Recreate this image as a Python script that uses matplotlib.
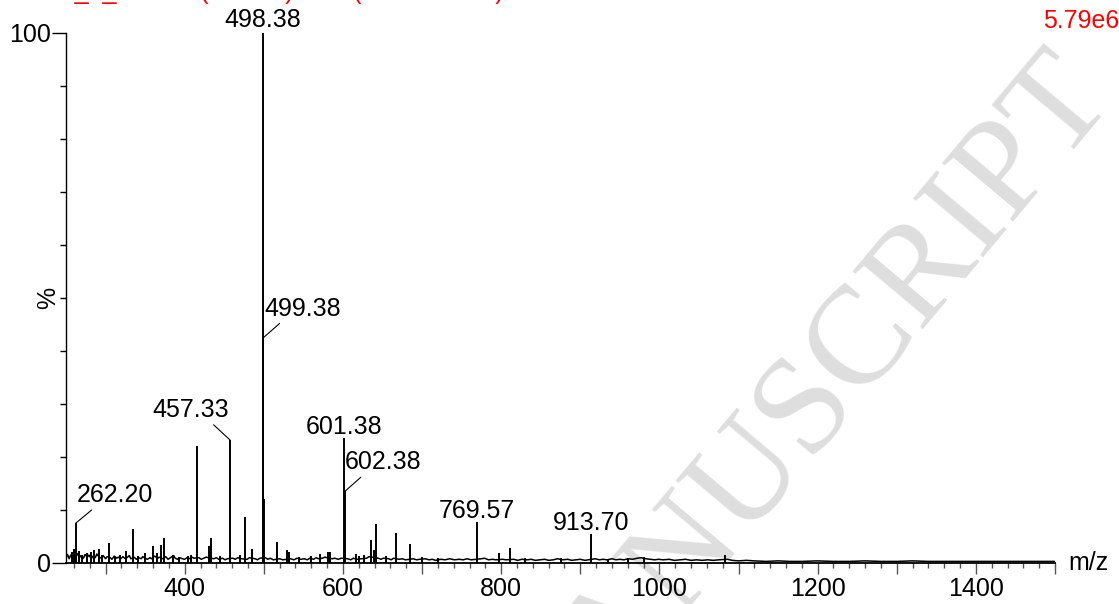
import matplotlib.pyplot as plt
from matplotlib.ticker import MultipleLocator, FuncFormatter

plt.rcParams['font.family'] = ['Liberation Sans', 'DejaVu Sans']

# peak centroids (m/z) and relative intensity (%)
peak_mz = [257.0, 259.5, 262.20, 266.0, 270.0, 276.0, 281.0, 286.0, 292.0, 296.0,
           304.6, 312.0, 318.0, 325.7, 334.1, 341.0, 350.0, 359.4, 365.0, 369.5,
           374.0, 385.0, 393.0, 404.0, 408.0, 415.3, 430.8, 433.8, 445.0, 457.33,
           470.0, 475.9, 485.5, 498.38, 499.38, 500.4, 516.7, 529.7, 531.5, 545.0,
           560.0, 571.0, 581.5, 583.5, 601.38, 602.38, 616.0, 620.0, 627.0, 635.7,
           638.7, 642.4, 655.0, 667.2, 685.3, 700.0, 720.0, 769.57, 797.6, 811.0,
           830.0, 875.0, 913.70, 935.0, 960.0, 980.0, 1082.8]
peak_pct = [2.0, 2.6, 7.5, 2.2, 1.6, 1.8, 2.0, 2.4, 2.6, 1.6,
            3.8, 1.4, 1.5, 2.3, 6.4, 1.4, 1.8, 3.2, 1.8, 3.4,
            4.8, 1.6, 1.2, 1.3, 1.5, 22.1, 3.2, 4.7, 1.3, 23.2,
            1.6, 8.6, 2.6, 100.0, 42.5, 12.0, 4.0, 2.5, 2.0, 1.2,
            1.3, 1.7, 2.0, 2.1, 23.5, 13.5, 1.7, 1.3, 1.5, 4.3,
            2.5, 7.4, 1.3, 5.7, 3.6, 1.2, 1.0, 7.7, 1.9, 2.8,
            0.9, 0.9, 5.5, 0.8, 0.9, 1.1, 1.5]

# baseline noise (m/z, %)
base_low = [(250, 1.0), (252, 1.6), (254, 0.8), (256, 1.5), (258, 1.1), (261, 0.9), (264, 1.8),
            (267, 1.0), (269, 1.4), (272, 0.9), (274, 1.6), (277, 1.1), (279, 1.5), (282, 0.8),
            (284, 1.3), (287, 1.0), (289, 1.7), (292, 1.1), (295, 0.9), (297, 1.4), (300, 0.8),
            (302, 1.2), (306, 1.0), (308, 0.7), (311, 1.3), (314, 0.9), (316, 1.1), (319, 0.8),
            (322, 1.2), (324, 0.9), (327, 1.0), (330, 1.4), (332, 0.8), (336, 1.1), (339, 0.7),
            (342, 1.0), (345, 0.8), (347, 1.2), (350, 0.9), (353, 0.7), (356, 1.0), (358, 0.8),
            (362, 1.3), (366, 0.9), (368, 1.1), (372, 0.8), (376, 1.2), (379, 0.7), (382, 1.0),
            (386, 1.4), (388, 0.9), (391, 0.7), (394, 1.0), (397, 0.8), (400, 0.7), (403, 1.0),
            (406, 0.8), (409, 1.1), (412, 0.9), (418, 1.0), (421, 0.7), (424, 0.9), (427, 1.1),
            (437, 0.8), (440, 1.0), (443, 0.7), (448, 0.9), (451, 0.6), (454, 0.8), (461, 0.9),
            (464, 0.7), (467, 1.0), (472, 0.8), (479, 0.7), (482, 1.0), (489, 0.8), (492, 0.6),
            (495, 0.9)]
base_mid = [(502, 1.0), (505, 0.7), (508, 0.9), (512, 0.6), (520, 0.8), (524, 0.6), (534, 0.8),
            (538, 0.6), (542, 0.9), (547, 0.7), (551, 0.8), (555, 0.6), (558, 0.9), (563, 0.7),
            (566, 1.0), (569, 0.8), (574, 0.9), (577, 1.1), (586, 0.8), (590, 0.9), (594, 0.7),
            (598, 0.9), (606, 0.8), (610, 0.6), (613, 0.9), (618, 0.7), (623, 0.8), (630, 0.9),
            (633, 1.2), (645, 0.9), (648, 0.7), (651, 0.9), (658, 0.8), (661, 0.6), (664, 0.9),
            (671, 0.7), (675, 0.8), (679, 0.6), (689, 0.8), (693, 0.6), (697, 0.7), (704, 0.8),
            (709, 0.6), (713, 0.7), (717, 0.5), (724, 0.7), (729, 0.6), (735, 0.8), (741, 0.6),
            (747, 0.7), (752, 0.6), (757, 0.8), (762, 0.6), (775, 0.8), (779, 0.9), (784, 0.6),
            (789, 0.7), (793, 0.6), (802, 0.7), (806, 0.6), (816, 0.7), (821, 0.5), (826, 0.7),
            (833, 0.6), (838, 0.7), (843, 0.5), (849, 0.6), (855, 0.7), (860, 0.5), (866, 0.6),
            (871, 0.8), (878, 0.6), (884, 0.7), (889, 0.5), (895, 0.6), (900, 0.7), (906, 0.5),
            (910, 0.6), (919, 0.8), (924, 0.6), (929, 0.7), (934, 0.6), (940, 0.8), (945, 0.6),
            (950, 0.7), (955, 0.6), (961, 0.8), (966, 0.7), (972, 0.9), (977, 1.0), (983, 0.8),
            (988, 0.7), (994, 0.6), (999, 0.7)]
base_high = [(1005, 0.6), (1012, 0.7), (1019, 0.5), (1026, 0.6), (1033, 0.7), (1040, 0.5),
             (1047, 0.6), (1054, 0.5), (1061, 0.6), (1068, 0.5), (1075, 0.6), (1086, 0.7),
             (1092, 0.5), (1100, 0.4), (1110, 0.5), (1120, 0.4), (1135, 0.3), (1150, 0.4),
             (1165, 0.3), (1180, 0.3), (1200, 0.4), (1220, 0.3), (1240, 0.3), (1260, 0.4),
             (1280, 0.3), (1300, 0.3), (1320, 0.4), (1340, 0.3), (1360, 0.3), (1380, 0.3),
             (1400, 0.3), (1420, 0.3), (1440, 0.3), (1460, 0.3), (1480, 0.3), (1500, 0.3)]

# labelled peaks
label_mz = [262.20, 457.33, 498.38, 499.38, 601.38, 602.38, 769.57, 913.70]
label_pct = [7.5, 23.2, 100.0, 42.5, 23.5, 13.5, 7.7, 5.5]

header = "A_1_24 183 (12.345)  Cm (174:190-3:8)"
scale_text = "5.79e6"

fig = plt.figure(figsize=(11.19, 6.04), dpi=100)
ax = fig.add_axes([66 / 1119, 41 / 604, 989 / 1119, 530 / 604])
ax.set_facecolor('none')

# watermark
fig.text(0.496, -0.185, "ACCEPTED MANUSCRIPT", fontsize=101, family='Liberation Serif',
         color='#dedede', rotation=50, rotation_mode='anchor', ha='center', va='center',
         zorder=-1)

base = base_low + base_mid + base_high
ax.plot([b[0] for b in base], [b[1] for b in base], color='black', lw=1.1)
ax.vlines(peak_mz, 0, peak_pct, color='black', lw=1.4)

ax.set_xlim(250, 1500)
ax.set_ylim(0, 100)
for s in ['top', 'right']:
    ax.spines[s].set_visible(False)
ax.spines['bottom'].set_linewidth(1.3)
ax.spines['left'].set_linewidth(1.0)

ax.xaxis.set_major_locator(MultipleLocator(100))
ax.xaxis.set_minor_locator(MultipleLocator(20))
ax.xaxis.set_major_formatter(FuncFormatter(lambda v, p: f"{v:.0f}" if v % 200 == 0 else ""))
ax.tick_params(axis='x', which='major', length=8, width=1.0, labelsize=18, pad=2, color='#555555')
ax.tick_params(axis='x', which='minor', length=3.5, width=1.0, color='#555555')

ax.set_yticks([0, 100])
ax.yaxis.set_minor_locator(MultipleLocator(10))
ax.tick_params(axis='y', which='major', length=10, width=1.0, labelsize=18, pad=1)
ax.tick_params(axis='y', which='minor', length=4, width=1.0)

ax.text(-0.006, 50, "%", transform=ax.get_yaxis_transform(), rotation=90,
        ha='right', va='center', fontsize=18)

# peak labels: (dx, dy) in pixels, alignment, leader start along text
label_style = {262.20: (1, 21, 'left', 0.24), 457.33: (-1, 23, 'right', 0.76),
               498.38: (0, 6, 'center', None), 499.38: (1, 22, 'left', 0.24),
               601.38: (0, 4, 'center', None), 602.38: (0, 22, 'left', 0.25),
               769.57: (0, 4, 'center', None), 913.70: (0, 4, 'center', None)}
for mz, pct in zip(label_mz, label_pct):
    dx, dy, ha, rel = label_style[mz]
    arrow = None
    if rel is not None:
        arrow = dict(arrowstyle='-', color='black', lw=0.8, shrinkA=0, shrinkB=0,
                     relpos=(rel, 0))
    ax.annotate(f"{mz:.2f}", xy=(mz, pct), xytext=(dx, dy), textcoords='offset pixels',
                ha=ha, va='baseline', fontsize=18, arrowprops=arrow)

fig.text(1068 / 1119, 1 - 563 / 604, "m/z", ha='left', va='center', fontsize=18)
fig.text(1.0, 1 - 28 / 604, scale_text, ha='right', va='baseline', fontsize=18, color='red')
fig.text(58 / 1119, 1 + 1.5 / 604, header, ha='left', va='baseline', fontsize=18, color='red')

fig.savefig("out.png", dpi=100)
